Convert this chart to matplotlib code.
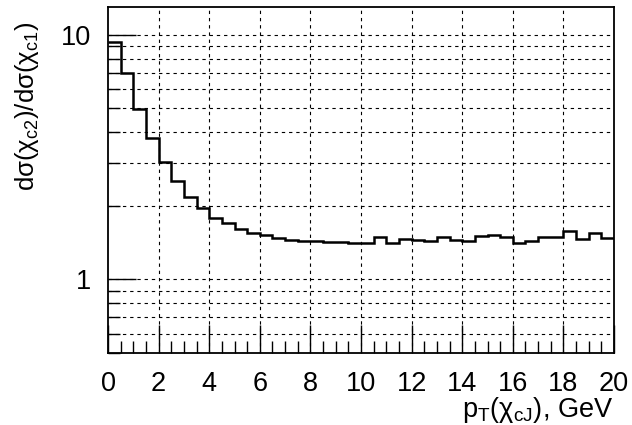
import numpy as np
import matplotlib
matplotlib.use("Agg")
import matplotlib.pyplot as plt
from matplotlib.ticker import FixedLocator, NullFormatter, FixedFormatter

# Data: ratio per 0.5 GeV bin from 0 to 20 GeV
bin_edges = [i * 0.5 for i in range(41)]
ratio = [9.33, 6.97, 4.99, 3.79, 3.03, 2.52, 2.17, 1.95, 1.79, 1.70,
         1.61, 1.55, 1.52, 1.48, 1.45, 1.44, 1.44, 1.42, 1.42, 1.41,
         1.41, 1.49, 1.41, 1.46, 1.45, 1.44, 1.49, 1.45, 1.44, 1.50,
         1.52, 1.49, 1.41, 1.43, 1.49, 1.49, 1.57, 1.46, 1.55, 1.48]

x_major = [0, 2, 4, 6, 8, 10, 12, 14, 16, 18, 20]
x_labels = [str(v) for v in x_major]
y_major = [1, 10]
y_labels = ["1", "10"]
y_minor = [0.5, 0.6, 0.7, 0.8, 0.9, 2, 3, 4, 5, 6, 7, 8, 9]

plt.rcParams['font.family'] = ['Liberation Sans', 'DejaVu Sans']
plt.rcParams['mathtext.default'] = 'regular'

fig = plt.figure(figsize=(6.32, 4.25), dpi=100)
ax = fig.add_axes([108 / 632, (425 - 353) / 425, 506 / 632, 346 / 425])

ax.set_yscale('log')
ax.set_xlim(0, 20)
ax.set_ylim(0.5, 13)

# grid lines
grid_kw = dict(color='black', lw=0.8, dashes=(3, 3.5), zorder=1)
for xv in x_major[1:-1]:
    ax.axvline(xv, **grid_kw)
for yv in [0.6, 0.7, 0.8, 0.9, 1, 2, 3, 4, 5, 6, 7, 8, 9, 10]:
    ax.axhline(yv, **grid_kw)

ax.stairs(ratio, bin_edges, baseline=None, color='black', lw=1.8, zorder=3)

ax.xaxis.set_major_locator(FixedLocator(x_major))
ax.xaxis.set_major_formatter(FixedFormatter(x_labels))
ax.xaxis.set_minor_locator(FixedLocator([i * 0.5 for i in range(41)]))
ax.yaxis.set_major_locator(FixedLocator(y_major))
ax.yaxis.set_major_formatter(FixedFormatter(y_labels))
ax.yaxis.set_minor_locator(FixedLocator(y_minor))
ax.yaxis.set_minor_formatter(NullFormatter())

ax.tick_params(which='major', direction='in', length=20, width=1.0,
               labelsize=19.5, pad=12, color='black')
ax.tick_params(which='minor', direction='in', length=8.5, width=1.0, color='black')
ax.tick_params(axis='x', which='major', pad=13)

for s in ax.spines.values():
    s.set_linewidth(1.3)
    s.set_zorder(5)

fig.text(27 / 632, 1 - 106 / 425,
         r'd$\sigma$($\chi_{c2}$)/d$\sigma$($\chi_{c1}$)', fontsize=18.5,
         rotation=90, ha='center', va='center')
fig.text(613 / 632, 1 - 410 / 425, r'p$_{T}$($\chi_{cJ}$), GeV', fontsize=19.5,
         ha='right', va='center')

fig.savefig('out.png', dpi=100)
